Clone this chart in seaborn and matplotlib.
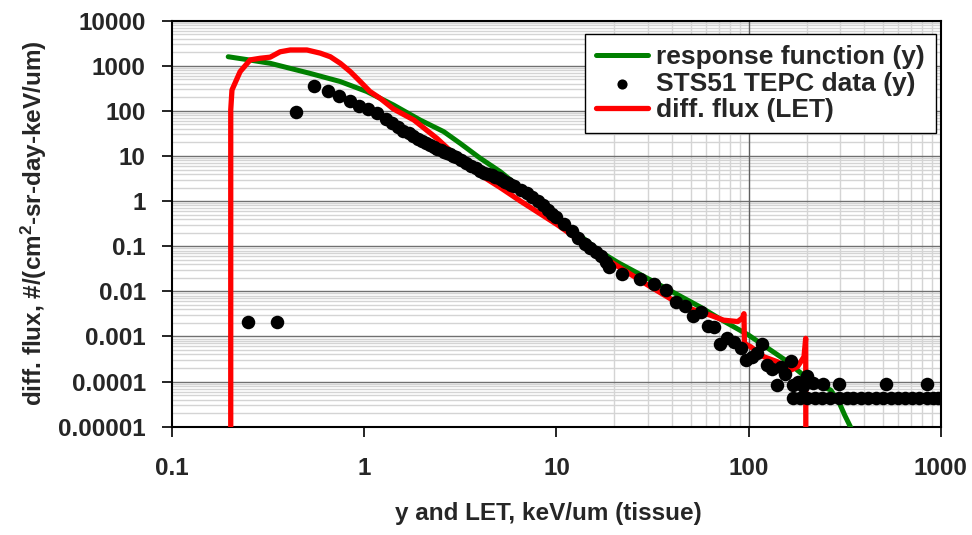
import numpy as np
import pandas as pd
import matplotlib
matplotlib.use("Agg")
import matplotlib.pyplot as plt
import seaborn as sns
from matplotlib.ticker import FixedLocator, NullFormatter

# ---------------- data ----------------
resp_x = [0.196, 0.251, 0.324, 0.524, 0.75, 1.03, 1.42, 1.95, 2.59, 3.16, 4.0, 5.1,
          7.9, 16.9, 21.0, 30.9, 56, 74, 100, 155, 202, 240, 267, 295, 316, 347]
resp_y = [1585, 1350, 1135, 676, 447, 269, 135, 63, 34.7, 19, 9.0, 4.5,
          1.0, 0.0755, 0.043, 0.0178, 0.0045, 0.0022, 0.00107, 0.0003, 0.000117,
          7.9e-5, 6.5e-5, 3.5e-5, 1.8e-5, 8e-6]

let_x = [0.202, 0.202, 0.205, 0.226, 0.255, 0.287, 0.324, 0.365, 0.412, 0.503, 0.59,
         0.666, 0.75, 0.846, 0.953, 1.07, 1.21, 1.42, 1.81, 2.39, 3.04, 4.02, 5.1, 6.5,
         10.1, 16.9, 30.9, 45.8, 63.4, 74, 87.7, 92.7, 94.5, 95, 102.5, 120, 141, 166,
         179.5, 194, 198, 198.5]
let_y = [1e-7, 105, 290, 741, 1350, 1466, 1550, 2040, 2240, 2240, 1905,
         1585, 1135, 741, 447, 269, 190, 110, 63, 24.5, 9.5, 3.8, 2.0, 1.0,
         0.3, 0.063, 0.0126, 0.0046, 0.00295, 0.0023, 0.00214, 0.00257, 0.0032, 0.0007,
         0.00059, 0.000355, 0.000275, 0.00018, 0.000214, 0.000355, 0.00091, 1e-7]

tepc_x = [0.249, 0.353, 0.443, 0.55, 0.646, 0.74, 0.84, 0.94, 1.05, 1.16,
          1.3, 1.4, 1.5, 1.6, 1.7, 1.8, 1.9, 2.0, 2.1, 2.2, 2.3, 2.4, 2.5, 2.6, 2.7, 2.8, 2.9, 3.0,
          3.2, 3.4, 3.6, 3.8, 4.0, 4.2, 4.4, 4.6, 4.8, 5.0, 5.2, 5.4, 5.6, 5.8, 6.0,
          6.5, 7.0, 7.5, 8.0, 8.5, 9.0, 9.5, 10, 11, 12, 13, 14, 15, 16, 17, 18, 18.7,
          22, 27.2, 32.1, 37, 41.8, 46.8, 51.4, 56.5, 61.5, 66,
          70.6, 77.2, 83.6, 90.8, 97, 104, 110, 117, 124, 132,
          140, 148, 155, 166, 171, 181, 192, 200, 215,
          243, 296, 520, 846,
          170, 185, 200, 220, 240, 265, 295, 325, 350, 385, 420, 460, 500, 550, 600,
          650, 705, 770, 845, 910, 965]
tepc_y = [0.00212, 0.00212, 95, 356, 276, 218, 166, 130, 110, 91,
          66, 53, 43, 36.4, 31.6, 27.6, 24.3, 21.7, 19.5, 17.6, 16, 14.6, 13.4, 12.4, 11.5, 10.8, 10.1, 9.4,
          8.3, 7.1, 6.15, 5.4, 4.7, 4.3, 4.0, 3.7, 3.44, 3.2, 2.96, 2.71, 2.49, 2.3, 2.12,
          1.76, 1.5, 1.25, 1.0, 0.8, 0.64, 0.52, 0.44, 0.31, 0.214, 0.152, 0.113, 0.093, 0.075, 0.06, 0.045, 0.035,
          0.024, 0.0186, 0.0145, 0.0105, 0.0059, 0.0047, 0.0029, 0.0034, 0.0017, 0.0016,
          0.00068, 0.00091, 0.00076, 0.00055, 0.0003, 0.00035, 0.00042, 0.00068, 0.00023, 0.00019,
          0.000083, 0.00021, 0.00015, 0.00028, 0.000083, 0.0001, 0.000078, 0.00013, 0.000091,
          0.000088, 0.000088, 0.000088, 0.000088,
          0.000043, 0.000043, 0.000043, 0.000043, 0.000043, 0.000043, 0.000043, 0.000043,
          0.000043, 0.000043, 0.000043, 0.000043, 0.000043, 0.000043, 0.000043,
          0.000043, 0.000043, 0.000043, 0.000043, 0.000043, 0.000043]

x_ticks = [0.1, 1, 10, 100, 1000]
x_tick_labels = ["0.1", "1", "10", "100", "1000"]
y_ticks = [1e-5, 1e-4, 1e-3, 1e-2, 1e-1, 1, 10, 100, 1000, 10000]
y_tick_labels = ["0.00001", "0.0001", "0.001", "0.01", "0.1", "1", "10", "100", "1000", "10000"]
x_minor_grid = [20, 30, 40, 50, 60, 70, 80, 90, 200, 300, 400, 500, 600, 700, 800, 900]

label_resp = "response function (y)"
label_tepc = "STS51 TEPC data (y)"
label_let = "diff. flux (LET)"

# ---------------- style ----------------
sns.set_theme(style="white")
plt.rcParams["font.family"] = ["Liberation Sans", "DejaVu Sans"]
plt.rcParams["font.weight"] = "bold"
plt.rcParams["mathtext.fontset"] = "custom"
plt.rcParams["mathtext.rm"] = "Liberation Sans:bold"
plt.rcParams["mathtext.bf"] = "Liberation Sans:bold"
plt.rcParams["mathtext.default"] = "bf"

fig = plt.figure(figsize=(9.72, 5.35), dpi=100)
fig.patch.set_facecolor("white")
ax = fig.add_axes([0.177, 0.2024, 0.791, 0.759])
ax.set_xscale("log")
ax.set_yscale("log")
ax.set_facecolor("white")

df_resp = pd.DataFrame({"x": resp_x, "y": resp_y})
df_let = pd.DataFrame({"x": let_x, "y": let_y})
df_tepc = pd.DataFrame({"x": tepc_x, "y": tepc_y})

sns.lineplot(data=df_resp, x="x", y="y", ax=ax, color="#008000", lw=3.6,
             sort=False, estimator=None, label=label_resp, zorder=3,
             solid_capstyle="round")
sns.lineplot(data=df_let, x="x", y="y", ax=ax, color="#ff0000", lw=3.8,
             sort=False, estimator=None, label=label_let, zorder=4)
sns.scatterplot(data=df_tepc, x="x", y="y", ax=ax, color="black", s=95,
                linewidth=0, label=label_tepc, zorder=5)

ax.set_xlim(0.1, 1000)
ax.set_ylim(1e-5, 1e4)

# ticks
ax.set_xticks(x_ticks, x_tick_labels)
ax.set_yticks(y_ticks, y_tick_labels)
ax.xaxis.set_minor_locator(FixedLocator(x_minor_grid))
ax.xaxis.set_minor_formatter(NullFormatter())
ax.yaxis.set_minor_locator(matplotlib.ticker.LogLocator(base=10, subs=np.arange(2, 10), numticks=100))
ax.yaxis.set_minor_formatter(NullFormatter())
ax.tick_params(axis="both", which="major", direction="out", length=7, width=1.2,
               color="black", labelsize=17.5, bottom=True, left=True)
ax.tick_params(axis="x", which="major", pad=15)
ax.tick_params(axis="y", which="major", pad=12)
ax.tick_params(axis="both", which="minor", length=0)
for lab in ax.get_xticklabels() + ax.get_yticklabels():
    lab.set_fontweight("bold")

# grid
ax.yaxis.grid(True, which="major", color="#707070", lw=1.0, zorder=1)
ax.yaxis.grid(True, which="minor", color="#d4d4d4", lw=1.0, zorder=1)
ax.xaxis.grid(True, which="minor", color="#d4d4d4", lw=1.0, zorder=1)
ax.xaxis.grid(False, which="major")
ax.axvline(x_ticks[3], color="#606060", lw=1.0, zorder=1)
ax.set_axisbelow(True)

for sp in ax.spines.values():
    sp.set_color("black")
    sp.set_linewidth(1.5)
    sp.set_visible(True)

ax.set_xlabel("y and LET, keV/um (tissue)", fontsize=17.5, fontweight="bold")
ax.set_ylabel("diff. flux, #/(cm$^2$-sr-day-keV/um)", fontsize=17.5, fontweight="bold")
ax.xaxis.set_label_coords(0.49, -0.185)
ax.yaxis.set_label_coords(-0.16, 0.5)

# legend in order: response, TEPC, LET
handles, labels = ax.get_legend_handles_labels()
order = [labels.index(label_resp), labels.index(label_tepc), labels.index(label_let)]
leg = ax.legend([handles[i] for i in order], [labels[i] for i in order],
                loc="upper right", bbox_to_anchor=(0.993, 0.967), borderaxespad=0,
                fontsize=19, frameon=True, fancybox=False, framealpha=1,
                edgecolor="black", handlelength=1.95, handletextpad=0.3,
                labelspacing=0.1, borderpad=0.42, markerscale=0.75)
leg.get_frame().set_linewidth(1.0)
for t in leg.get_texts():
    t.set_fontweight("bold")

fig.savefig("out.png", dpi=100, facecolor="white")
